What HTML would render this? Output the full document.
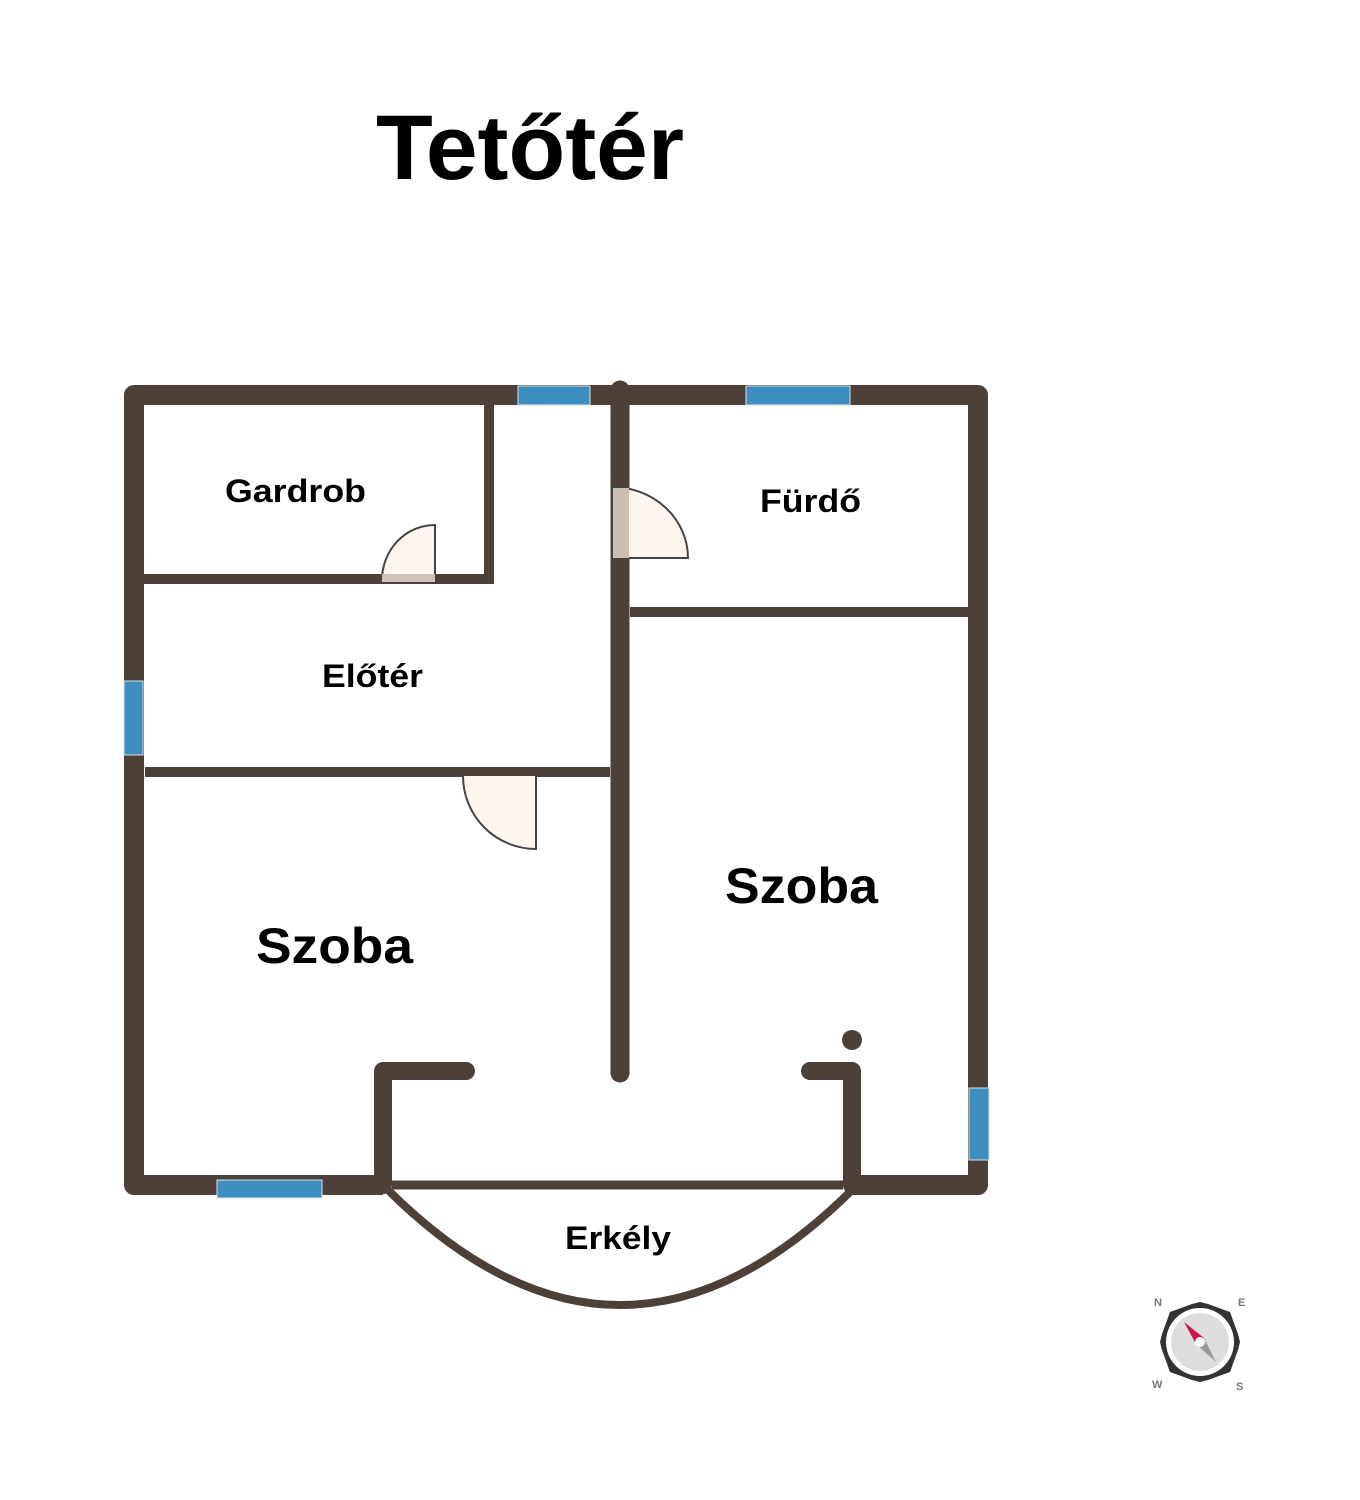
<!DOCTYPE html>
<html><head><meta charset="utf-8"><style>
body{margin:0;background:#fff;width:1360px;height:1500px;overflow:hidden}
svg{display:block}
text{font-family:"Liberation Sans",sans-serif;font-weight:bold;fill:#000}
</style></head><body>
<svg width="1360" height="1500" viewBox="0 0 1360 1500">
<text x="376" y="179" font-size="92" textLength="308" lengthAdjust="spacingAndGlyphs">Tetőtér</text>
<g stroke="#4d4039" stroke-linecap="round" fill="none">
<path d="M383 1185 H134 V395 H978 V1185 H852" stroke-width="20" stroke-linejoin="round" stroke-linecap="butt"/>
<path d="M145 579 H489 V405" stroke-width="10" stroke-linecap="square"/>
<path d="M620 390 V1073" stroke-width="19"/>
<path d="M630 612 H968" stroke-width="10" stroke-linecap="butt"/>
<path d="M145 772 H610" stroke-width="10" stroke-linecap="butt"/>
<path d="M383 1185 V1071 H466" stroke-width="18" stroke-linejoin="round"/>
<path d="M852 1185 V1071 H810" stroke-width="18" stroke-linejoin="round"/>
<path d="M392 1185 H843" stroke-width="9" stroke-linecap="butt"/>
<path d="M388 1190 Q620 1420 852 1190" stroke-width="8"/>
</g>
<circle cx="852" cy="1040" r="10" fill="#4d4039"/>
<circle cx="620" cy="390" r="9" fill="#4d4039"/>
<g fill="#3e8fc1" stroke="#ddd" stroke-width="1">
<rect x="518" y="386" width="72" height="19"/>
<rect x="746" y="386" width="104" height="19"/>
<rect x="124" y="681" width="19" height="74"/>
<rect x="217" y="1180" width="105" height="18"/>
<rect x="969" y="1088" width="20" height="72"/>
</g>
<g stroke="#444" stroke-width="2">
<path d="M382 580 A53 55 0 0 1 435 525 V580 Z" fill="#fcf6ee"/>
<rect x="382" y="574" width="53" height="8" fill="#cfc4b8" stroke="none"/>
<path d="M612 487 A76 71 0 0 1 688 558 H612 Z" fill="#fcf6ee"/>
<rect x="611" y="488" width="18" height="70" fill="#cbbfb3" stroke="none"/>
<path d="M612 487 V558" />
<path d="M463 776 A73 73 0 0 0 536 849 V776" fill="#fcf6ee"/>
</g>
<text x="225" y="502" font-size="32" textLength="141" lengthAdjust="spacingAndGlyphs">Gardrob</text>
<text x="760" y="512" font-size="32" textLength="101" lengthAdjust="spacingAndGlyphs">Fürdő</text>
<text x="322" y="687" font-size="32" textLength="101" lengthAdjust="spacingAndGlyphs">Előtér</text>
<text x="256" y="963" font-size="50" textLength="157" lengthAdjust="spacingAndGlyphs">Szoba</text>
<text x="725" y="903" font-size="50" textLength="153" lengthAdjust="spacingAndGlyphs">Szoba</text>
<text x="565" y="1249" font-size="32" textLength="106" lengthAdjust="spacingAndGlyphs">Erkély</text>
<g transform="translate(1200,1342)">
<polygon points="-30,-30 -8,-38 0,-40 8,-38 30,-30 38,-8 40,0 38,8 30,30 8,38 0,40 -8,38 -30,30 -38,8 -40,0 -38,-8" fill="#333"/>
<polygon points="-30,-30 -16,-34 -34,-16" fill="#333"/>
<circle r="38" fill="#333"/>
<circle r="34" fill="#fff"/>
<circle r="29" fill="#ddd"/>
<polygon points="-16,-20 -4,2 4,-4" fill="#d0104a"/>
<polygon points="16,20 4,-4 -4,2" fill="#999"/>
<circle r="5" fill="#fff"/>
<text x="-46" y="-36" font-size="11" style="fill:#777">N</text>
<text x="38" y="-36" font-size="11" style="fill:#777">E</text>
<text x="-48" y="46" font-size="11" style="fill:#777">W</text>
<text x="36" y="48" font-size="11" style="fill:#777">S</text>
</g>
</svg>
</body></html>
